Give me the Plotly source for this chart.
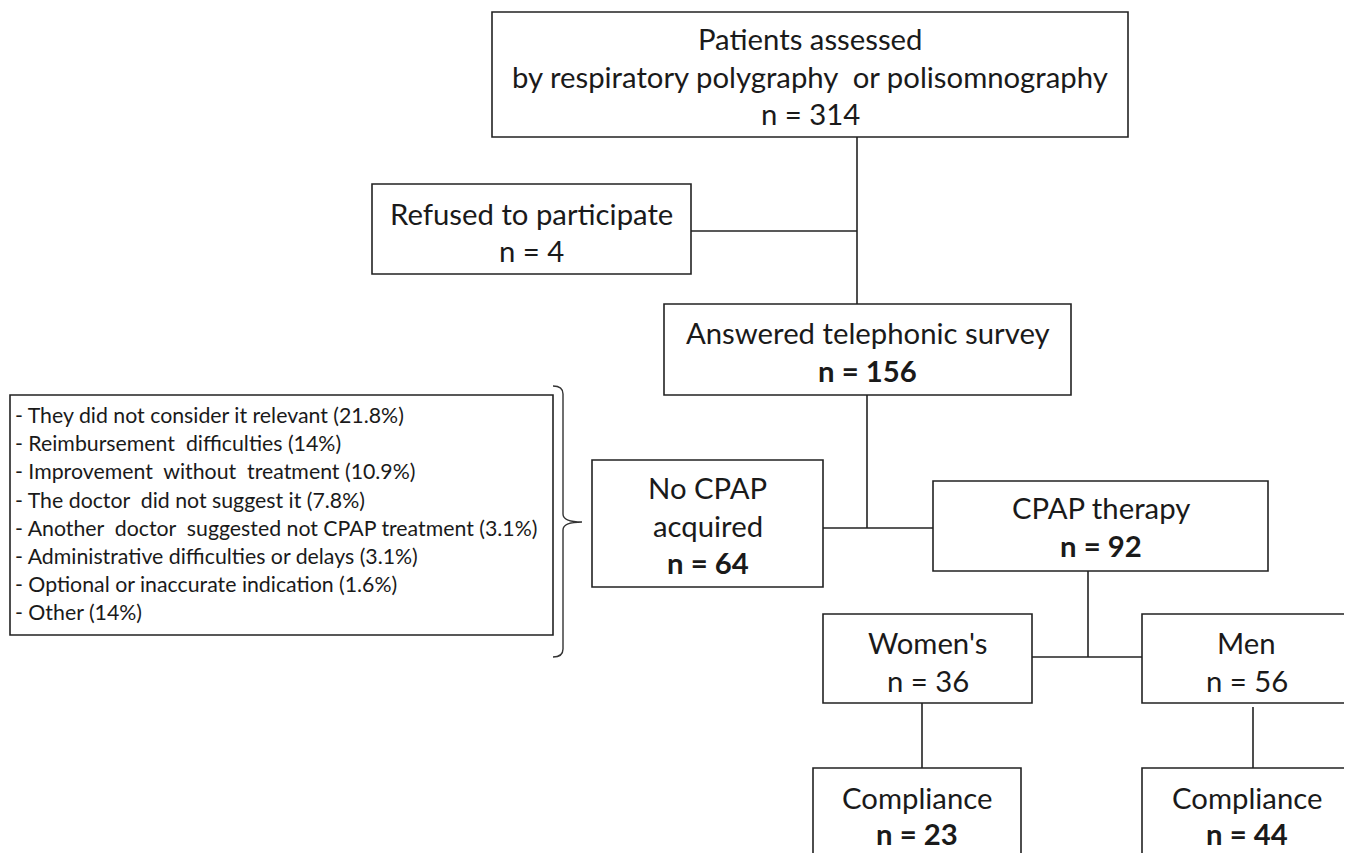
import plotly.graph_objects as go

# ---------------- data ----------------
node_titles = [
    "Patients assessed<br>by respiratory polygraphy  or polisomnography",
    "Refused to participate",
    "Answered telephonic survey",
    "No CPAP<br>acquired",
    "CPAP therapy",
    "Women's",
    "Men",
    "Compliance",
    "Compliance",
]
node_counts = [314, 4, 156, 64, 92, 36, 56, 23, 44]
count_bold = [False, False, True, True, True, False, False, True, True]

reasons = [
    "They did not consider it relevant",
    "Reimbursement  difficulties",
    "Improvement  without  treatment",
    "The doctor  did not suggest it",
    "Another  doctor  suggested not CPAP treatment",
    "Administrative difficulties or delays",
    "Optional or inaccurate indication",
    "Other",
]
reason_pct = [21.8, 14, 10.9, 7.8, 3.1, 3.1, 1.6, 14]

# ---------------- layout geometry (pixels) ----------------
W, H = 1352, 853
OFF = 8  # page body margin
boxes = [  # x0, y0, x1, y1
    (492, 12, 1128, 137),
    (372, 184, 691, 274),
    (664, 304, 1071, 395),
    (592, 460, 823, 587),
    (933, 481, 1268, 571),
    (823, 614, 1032, 703),
    (1142, 614, 1351, 703),
    (813, 768, 1021, 870),
    (1142, 768, 1370, 870),
]
title_y = [(38, 76), (213,), (332,), (487, 525), (507,), (642,), (642,), (797,), (797,)]
count_y = [113, 250, 370, 562, 545, 680, 680, 833, 833]

connectors = [
    ((857, 137), (857, 304)),
    ((691, 231), (857, 231)),
    ((867, 395), (867, 528)),
    ((823, 528), (933, 528)),
    ((1088, 571), (1088, 657)),
    ((1032, 657), (1142, 657)),
    ((922, 703), (922, 768)),
    ((1253, 707), (1253, 768)),
]
reason_box = (10, 395, 553, 635)

FONT = "Lato"
TXT = "#1a1a1a"
LINE = "#222222"
MAIN_SIZE = 29.3
REASON_SIZE = 21.3

fig = go.Figure()
shapes = []
annotations = []

for (x0, y0, x1, y1) in boxes:
    shapes.append(dict(type="rect", xref="x", yref="y", x0=x0, y0=y0, x1=x1, y1=y1,
                       line=dict(color=LINE, width=1.6), fillcolor="rgba(0,0,0,0)"))

for (a, b) in connectors:
    shapes.append(dict(type="line", xref="x", yref="y", x0=a[0], y0=a[1], x1=b[0], y1=b[1],
                       line=dict(color=LINE, width=1.6)))

rx0, ry0, rx1, ry1 = reason_box
shapes.append(dict(type="rect", xref="x", yref="y", x0=rx0, y0=ry0, x1=rx1, y1=ry1,
                   line=dict(color=LINE, width=1.6), fillcolor="rgba(0,0,0,0)"))

# curly bracket
bx = 563
brace = (f"M 553 386 Q {bx} 386 {bx} 394 L {bx} 514 Q {bx} 522 582 522 "
         f"Q {bx} 522 {bx} 530 L {bx} 649 Q {bx} 657 553 657")
shapes.append(dict(type="path", xref="x", yref="y", path=brace,
                   line=dict(color="#333333", width=1.4)))

for i, (x0, y0, x1, y1) in enumerate(boxes):
    cx = (x0 + min(x1, 1351)) / 2
    lines = node_titles[i].split("<br>")
    for ln, yy in zip(lines, title_y[i]):
        annotations.append(dict(x=cx, y=yy, xref="x", yref="y", text=ln, showarrow=False,
                                xanchor="center", yanchor="middle",
                                font=dict(family=FONT, size=MAIN_SIZE, color=TXT)))
    ctext = f"n = {node_counts[i]}"
    if count_bold[i]:
        ctext = f"<b>{ctext}</b>"
    annotations.append(dict(x=cx, y=count_y[i], xref="x", yref="y", text=ctext, showarrow=False,
                            xanchor="center", yanchor="middle",
                            font=dict(family=FONT, size=MAIN_SIZE, color=TXT)))

for k, (r, p) in enumerate(zip(reasons, reason_pct)):
    annotations.append(dict(x=13, y=415 + k * 28.2, xref="x", yref="y",
                            text=f"- {r} ({p:g}%)", showarrow=False,
                            xanchor="left", yanchor="middle",
                            font=dict(family=FONT, size=REASON_SIZE, color=TXT)))

fig.update_layout(
    width=W, height=H, autosize=False,
    margin=dict(l=0, r=0, t=0, b=0),
    paper_bgcolor="white", plot_bgcolor="white",
    xaxis=dict(range=[OFF, W + OFF], visible=False, fixedrange=True),
    yaxis=dict(range=[H + OFF, OFF], visible=False, fixedrange=True),
    shapes=shapes, annotations=annotations, showlegend=False,
)

fig.write_html("out.html")
